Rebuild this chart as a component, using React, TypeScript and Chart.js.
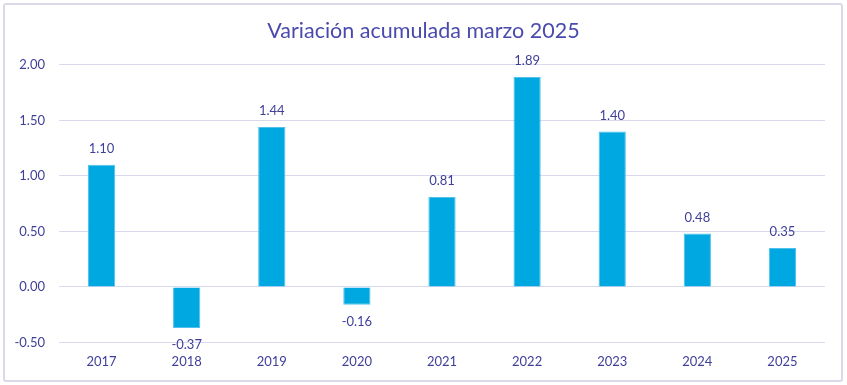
import React, { useEffect, useRef } from "react";
import { Chart, registerables } from "chart.js";

Chart.register(...registerables);

const categories = ["2017", "2018", "2019", "2020", "2021", "2022", "2023", "2024", "2025"];
const values = [1.10, -0.37, 1.44, -0.16, 0.81, 1.89, 1.40, 0.48, 0.35];
const titleText = "Variación acumulada marzo 2025";

const FONT = "Lato, 'Open Sans', sans-serif";
const TEXT = "#3F3F9A";

const labelPlugin = {
  id: "barLabels",
  afterDatasetsDraw(chart: any) {
    const ctx = chart.ctx;
    const meta = chart.getDatasetMeta(0);
    ctx.save();
    ctx.font = `13px ${FONT}`;
    ctx.fillStyle = TEXT;
    ctx.textAlign = "center";
    ctx.textBaseline = "middle";
    meta.data.forEach((bar: any, i: number) => {
      const v = values[i];
      const y = v >= 0 ? bar.y - 16 : bar.y + 17;
      ctx.fillText(v.toFixed(2), bar.x, y);
    });
    // title centred on the whole canvas (the title plugin only reserves space)
    ctx.font = `21.5px ${FONT}`;
    ctx.fillStyle = "#4A4AAE";
    ctx.fillText(titleText, chart.width / 2, 31);
    ctx.restore();
  },
};

export default function App() {
  const ref = useRef<HTMLCanvasElement>(null);
  useEffect(() => {
    document.body.style.margin = "0";
    const chart = new Chart(ref.current!, {
      type: "bar",
      data: {
        labels: categories,
        datasets: [
          {
            data: values,
            backgroundColor: "#00A8E1",
            borderColor: "#4FC0EA",
            borderWidth: 1,
            barPercentage: 0.64,
            categoryPercentage: 0.5,
          },
        ],
      },
      options: {
        animation: false,
        responsive: false,
        maintainAspectRatio: false,
        layout: { padding: { left: 0, right: 22, top: 0, bottom: 3 } },
        plugins: {
          legend: { display: false },
          tooltip: { enabled: false },
          title: {
            display: true,
            text: titleText,
            color: "rgba(0,0,0,0)",
            font: { family: FONT, size: 21.5, weight: "normal" },
            padding: { top: 18, bottom: 21 },
          },
        },
        scales: {
          x: {
            grid: { display: false, drawTicks: false },
            border: { display: false },
            ticks: { color: TEXT, font: { family: FONT, size: 13 }, padding: 12 },
          },
          y: {
            min: -0.5,
            max: 2.0,
            afterFit(scale: any) {
              scale.width = 59;
            },
            grid: { color: "#D9D9EE", drawTicks: false, lineWidth: 1 },
            border: { display: false },
            ticks: {
              stepSize: 0.5,
              color: TEXT,
              font: { family: FONT, size: 13 },
              padding: 14,
              callback: (v: any) => Number(v).toFixed(2),
            },
          },
        },
      },
      plugins: [labelPlugin],
    });
    return () => chart.destroy();
  }, []);
  return (
    <div style={{ position: "relative", width: 847, height: 385, background: "#fff" }}>
      <canvas ref={ref} width={847} height={385} style={{ position: "absolute", left: 0, top: 0 }} />
      <div
        style={{
          position: "absolute",
          left: 3,
          top: 3,
          width: 836,
          height: 375,
          border: "2px solid #D9D9E8",
          borderRadius: 3,
          pointerEvents: "none",
        }}
      />
    </div>
  );
}
